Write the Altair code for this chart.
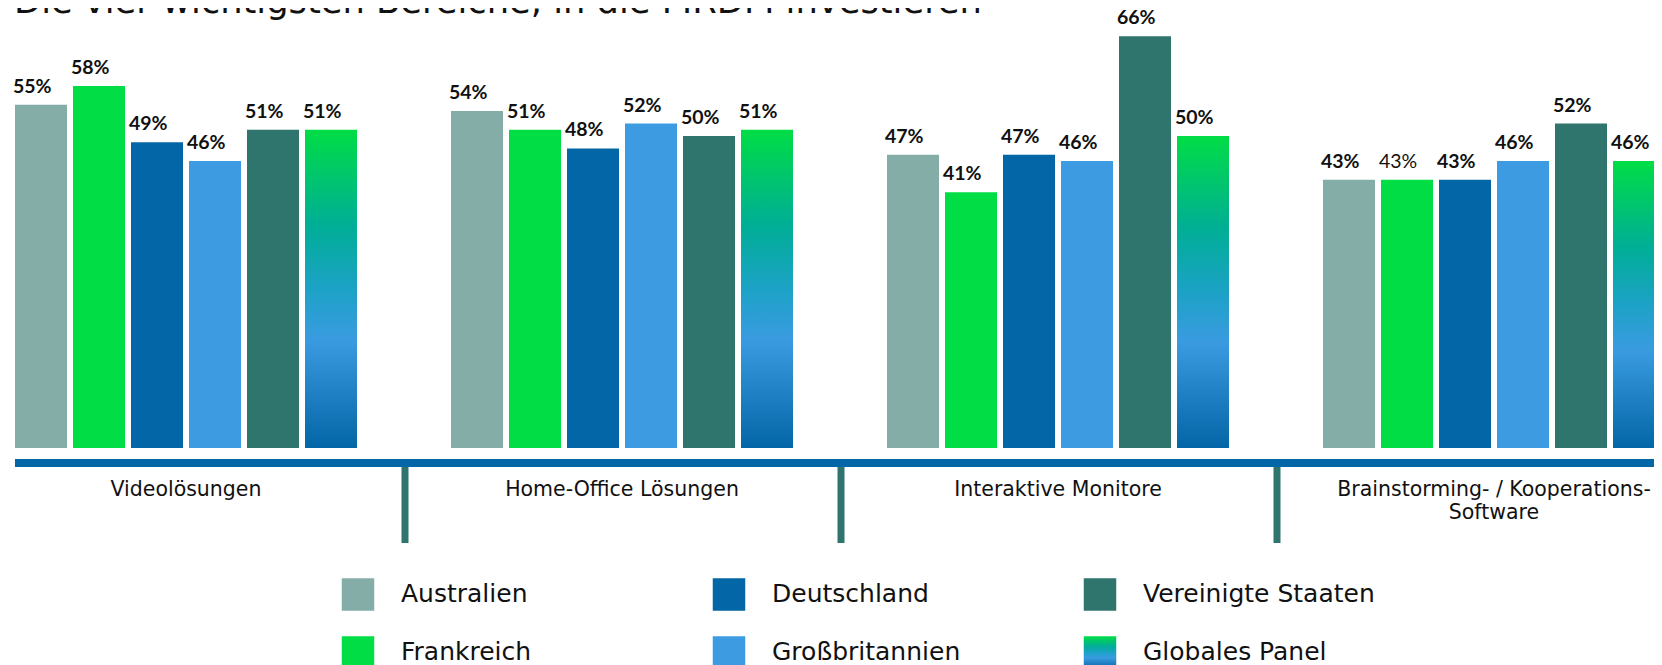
import altair as alt
import pandas as pd

# ---------------- data ----------------
title_text = "Die vier wichtigsten Bereiche, in die MRDM investieren"
categories = [
    "Videolösungen",
    "Home-Office Lösungen",
    "Interaktive Monitore",
    "Brainstorming- / Kooperations-\nSoftware",
]
series = [
    "Australien",
    "Frankreich",
    "Deutschland",
    "Großbritannien",
    "Vereinigte Staaten",
    "Globales Panel",
]
australien = [55, 54, 47, 43]
frankreich = [58, 51, 41, 43]
deutschland = [49, 48, 47, 43]
grossbritannien = [46, 52, 46, 46]
vereinigte_staaten = [51, 50, 66, 52]
globales_panel = [51, 51, 50, 46]
series_values = [australien, frankreich, deutschland, grossbritannien,
                 vereinigte_staaten, globales_panel]
solid_colors = ["#85ADA8", "#00DD45", "#0366A6", "#3C9BE1", "#2F756D"]
# label drawn in regular (not bold) weight in the original
regular_labels = [(categories[3], "Frankreich")]

rows = []
for s, vals in zip(series, series_values):
    for c, v in zip(categories, vals):
        rows.append({"category": c, "series": s, "value": v,
                     "bold": (c, s) not in regular_labels})
df = pd.DataFrame(rows)

legend_df = pd.DataFrame({
    "series": series,
    "col": [i // 2 for i in range(len(series))],
    "row": [i % 2 for i in range(len(series))],
})

# ---------------- layout ----------------
W, H = 1646, 440          # visible svg width; x range extends past it (clipped)
X_RANGE = 1664
PX_PER_PCT = 6.24
FONT = "DejaVu Sans"
TXT = "#111111"

gradient = alt.LinearGradient(
    gradient="linear", x1=0, y1=0, x2=0, y2=1,
    stops=[
        alt.GradientStop(offset=0.0, color="#00DD45"),
        alt.GradientStop(offset=0.3, color="#00AE96"),
        alt.GradientStop(offset=0.5, color="#1CA2C6"),
        alt.GradientStop(offset=0.66, color="#3A9BE0"),
        alt.GradientStop(offset=1.0, color="#0366A6"),
    ],
)

x_scale = alt.Scale(domain=categories, range=[0, X_RANGE],
                    paddingInner=94 / 436, paddingOuter=7 / 436)
off_scale = alt.Scale(domain=series, paddingInner=6 / 58, paddingOuter=0)
y_scale = alt.Scale(domain=[0, H / PX_PER_PCT], nice=False, zero=True)

X = alt.X("category:N", scale=x_scale, axis=None)
XO = alt.XOffset("series:N", scale=off_scale)
Y = alt.Y("value:Q", scale=y_scale, axis=None)

base = alt.Chart(df)

solid = base.transform_filter(alt.datum.series != "Globales Panel").mark_bar().encode(
    x=X, xOffset=XO, y=Y,
    color=alt.Color("series:N", scale=alt.Scale(domain=series[:5], range=solid_colors),
                    legend=None),
)
glob = base.transform_filter(alt.datum.series == "Globales Panel").mark_bar(
    fill=gradient).encode(x=X, xOffset=XO, y=Y)

lbl_kw = dict(align="left", baseline="alphabetic", dx=-28, dy=-12,
              font="Lato", fontSize=19.5, color=TXT)
labels_bold = base.transform_filter(alt.datum.bold).transform_calculate(
    label="datum.value + '%'").mark_text(fontWeight="bold", **lbl_kw).encode(
    x=X, xOffset=XO, y=Y, text="label:N")
labels_reg = base.transform_filter(~alt.datum.bold).transform_calculate(
    label="datum.value + '%'").mark_text(fontWeight="normal", **lbl_kw).encode(
    x=X, xOffset=XO, y=Y, text="label:N")

cat_df = pd.DataFrame({"category": categories})
cat_labels = alt.Chart(cat_df).mark_text(
    align="center", baseline="alphabetic", font=FONT, fontSize=20.5,
    lineBreak="\n", lineHeight=23, color=TXT,
).encode(x=X, y=alt.value(488), text="category:N")

sep_df = pd.DataFrame({"category": categories[1:]})
separators = alt.Chart(sep_df).mark_rule(
    color="#2F756D", strokeWidth=7, xOffset=-46
).encode(x=alt.X("category:N", scale=x_scale, axis=None, bandPosition=0),
         y=alt.value(458), y2=alt.value(535))

one = pd.DataFrame({"t": [title_text]})
axis_line = alt.Chart(one).mark_rule(color="#0366A6", strokeWidth=8).encode(
    x=alt.value(7), x2=alt.value(W + 20), y=alt.value(455))

title = alt.Chart(one).mark_text(
    align="left", baseline="alphabetic", font=FONT, fontSize=35.3,
    fontWeight="normal", color=TXT,
).encode(x=alt.value(6), y=alt.value(5), text="t:N")

main = alt.layer(solid, glob, labels_bold, labels_reg, cat_labels,
                 separators, axis_line, title)

LX = alt.X("col:Q", scale=alt.Scale(domain=[0, 2], range=[350, 1092]), axis=None)
LY = alt.Y("row:Q", scale=alt.Scale(domain=[0, 1], range=[586.5, 644.5]), axis=None)
lbase = alt.Chart(legend_df)
leg_sq = lbase.transform_filter(alt.datum.series != "Globales Panel").mark_point(
    shape="square", filled=True, size=1056, opacity=1).encode(
    x=LX, y=LY,
    color=alt.Color("series:N", scale=alt.Scale(domain=series[:5], range=solid_colors),
                    legend=None))
leg_glob = lbase.transform_filter(alt.datum.series == "Globales Panel").mark_point(
    shape="square", filled=True, size=1056, opacity=1, fill=gradient,
    strokeWidth=0).encode(x=LX, y=LY)
leg_txt = lbase.mark_text(align="left", baseline="alphabetic", dx=43, dy=7.5,
                          font=FONT, fontSize=25, color=TXT).encode(
    x=LX, y=LY, text="series:N")
legend = alt.layer(leg_sq, leg_glob, leg_txt)

chart = alt.layer(main, legend).resolve_scale(
    x="independent", y="independent", color="independent"
).properties(
    width=W, height=H, autosize="none",
    padding={"left": 0, "top": 0, "right": 0, "bottom": 230},
    background="white",
).configure_view(stroke=None)

chart.save("out.html", embed_options={"renderer": "svg", "actions": False})
